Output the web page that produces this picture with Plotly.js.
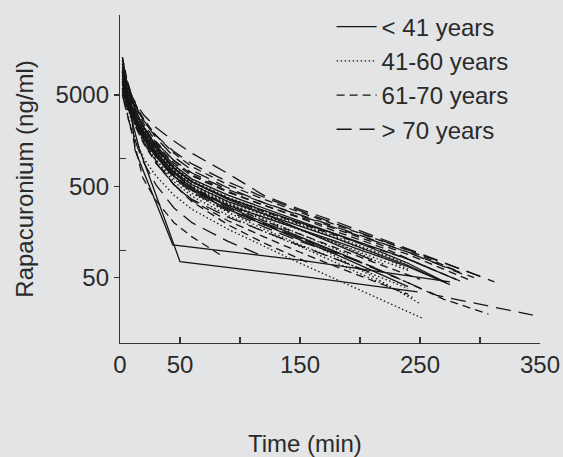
<!DOCTYPE html>
<html>
<head>
<meta charset="utf-8">
<script src="https://cdn.plot.ly/plotly-3.0.1.min.js"></script>
<style>html,body{margin:0;padding:0;background:#e3e4e5;}</style>
</head>
<body>
<div id="chart" style="width:563px;height:457px;"></div>
<script>
// Age groups (legend labels)
const groupNames = ["< 41 years", "41-60 years", "61-70 years", "> 70 years"];

// < 41 years : sampling times (min) and rapacuronium concentrations (ng/ml)
const timesA = [
  [2,5,10,12.5,44,150,275],
  [2,5,10,16,50,150,248],
  [2,3,5,7,10,15,20,30,45,60,90,120,150,180,210,240,272],
  [2,4,6,8,10,15,20,30,45,60,90,120,150,180,240,270],
  [2,4,6,10,15,20,30,45,60,90,120,180,240,275],
  [2,3,5,8,10,15,20,30,45,60,90,120,150,180,210],
  [2,4,6,8,10,15,20,30,45,60,90,120,150,180,240],
  [2,4,6,10,15,20,30,45,60,90,120,150,180,240,280],
  [2,4,7,10,15,20,30,45,60,90,120,150,200]
];
const concA = [
  [9000,5500,2800,1250,114,78,45],
  [7500,4600,2600,1300,75,52,35],
  [11000,9000,6800,5400,4200,2900,2200,1400,850,600,400,290,210,150,105,72,44],
  [8500,6200,5000,4100,3500,2500,1900,1200,720,520,340,250,185,135,68,45],
  [7000,5400,4300,3000,2100,1600,1050,640,460,310,230,125,66,42],
  [13000,10500,7600,5300,4400,3000,2200,1350,800,560,360,250,170,115,78],
  [6000,4800,4000,3400,3000,2200,1700,1100,650,450,280,190,130,90,40],
  [9000,6800,5500,3700,2600,2000,1300,780,560,370,270,200,150,80,48],
  [5500,4500,3600,3000,2300,1800,1150,700,480,300,200,140,75]
];

// 41-60 years
const timesB = [
  [2,4,6,10,15,20,30,45,60,90,120,150,180,210,252],
  [2,4,6,10,15,20,30,45,60,90,120,150,180,210,250],
  [2,4,6,10,15,20,30,45,60,90,120,150,180,240],
  [2,3,5,8,10,15,20,30,45,60,90,120,150,180,210,240],
  [2,4,6,10,15,20,30,45,60,90,120,150,200,245],
  [2,4,6,10,15,20,30,45,60,90,120,150,180,220],
  [2,4,6,10,15,20,30,45,60,90,120,150,180,240],
  [2,4,6,10,15,20,30,45,60,90,120,150,180,210,240],
  [2,4,6,10,15,20,30,45,60,90,120,150,190]
];
const concB = [
  [5800,4200,3200,2100,1400,1000,650,400,280,170,110,72,48,32,18],
  [9000,6600,5200,3500,2400,1800,1150,700,500,320,210,140,85,52,26],
  [7000,5500,4500,3200,2300,1700,1100,680,480,320,230,165,120,60],
  [10000,8200,6300,4600,4000,2800,2100,1350,820,580,380,270,195,140,100,70],
  [6500,5000,4100,2900,2000,1500,950,560,390,240,160,110,55,30],
  [12000,8500,6500,4300,2900,2100,1300,760,530,340,240,170,120,70],
  [5200,4300,3600,2700,2000,1500,980,600,420,260,170,115,80,38],
  [8500,6400,5100,3500,2500,1900,1250,780,560,370,260,190,135,95,62],
  [9500,7000,5500,3800,2700,2000,1250,740,520,330,220,150,90]
];

// 61-70 years
const timesC = [
  [2,4,6,10,15,20,30,45,60,90,120,150,180,210,240,270,307],
  [2,4,6,10,15,20,30,45,60,90,120,150,180,240,290],
  [2,4,6,10,15,20,30,45,60,90,120,150,180,240,280],
  [2,4,6,10,15,19,30,45,60,86],
  [2,4,6,10,15,20,30,45,60,90,120,150,180,210,250],
  [2,4,6,10,15,20,30,45,60,90,120,150,180,220,260],
  [2,4,6,10,15,20,30,45,60,90,120,150,180,240],
  [2,4,6,10,15,20,30,45,60,90,120,150,180,240,285],
  [2,4,6,10,15,20,30,45,60,90,120,160]
];
const concC = [
  [7500,5800,4700,3300,2300,1700,1100,650,450,280,190,135,95,66,44,29,20],
  [9000,7000,5600,4000,2900,2200,1450,900,650,430,310,230,170,90,48],
  [11000,8500,6800,4800,3500,2700,1800,1150,820,520,360,260,190,100,60],
  [6000,4200,3100,1900,1050,620,350,200,140,85],
  [8000,6000,4800,3400,2400,1800,1150,700,490,310,210,150,105,75,48],
  [13000,9500,7200,4800,3300,2400,1550,950,670,440,310,225,160,105,62],
  [5500,4400,3700,2700,1950,1450,900,520,350,210,140,95,66,33],
  [7000,5500,4600,3400,2500,1900,1250,780,560,370,265,195,145,80,45],
  [9000,6500,5000,3300,2200,1600,950,520,340,190,120,70]
];

// > 70 years
const timesD = [
  [2,4,6,10,15,20,30,42,60,90,121,150,180,242,312],
  [2,4,6,10,15,20,30,45,60,90,120,150,200,264,344],
  [2,4,6,10,15,20,30,45,60,90,120,150,180,240,300],
  [2,4,6,10,15,20,30,45,60,90,120,150,180,230],
  [2,4,6,10,15,20,30,45,60,90,120,150,180,240,285],
  [2,4,6,10,15,20,30,45,60,90,120,150,180,210],
  [2,4,6,10,15,20,30,45,60,90,120],
  [2,4,6,10,15,20,30,45,60,90,120,150,180,240,295]
];
const concD = [
  [10000,8000,6500,4800,3700,3000,2200,1670,1150,690,390,280,205,101,45],
  [7000,5500,4500,3200,2300,1700,1050,620,430,270,180,125,75,32,19.5],
  [9000,7200,6000,4400,3300,2600,1800,1200,880,560,380,270,195,100,52],
  [6500,5000,4100,3000,2200,1700,1100,660,460,290,195,135,95,50],
  [12000,9000,7000,4800,3400,2600,1700,1050,750,480,330,240,175,95,55],
  [8000,6000,4600,3100,2100,1500,900,520,360,230,160,112,80,56],
  [5000,3800,3000,2000,1300,900,520,290,200,125,85],
  [7500,6000,5000,3700,2800,2200,1500,960,700,460,330,245,180,95,50]
];

// Axis ticks
const xTickVals = [0, 50, 150, 250, 350];
const xTickText = ["0", "50", "150", "250", "350"];
const xMinorTicks = [100, 200, 300];
const yTickVals = [50, 500, 5000];
const yTickText = ["50", "500", "5000"];
const yMinorTicks = [100, 1000];

const groupTimes = [timesA, timesB, timesC, timesD];
const groupConc = [concA, concB, concC, concD];
const groupDash = ["solid", "1.5px,2.5px", "8px,5px", "15px,8px"];
const lineColor = "#161616";

const traces = [];
groupTimes.forEach((tg, g) => {
  tg.forEach((t, i) => {
    traces.push({
      type: "scatter",
      mode: "lines",
      x: t,
      y: groupConc[g][i],
      name: groupNames[g],
      legendgroup: "g" + g,
      showlegend: i === 0,
      line: {color: lineColor, width: 1.3, dash: groupDash[g]},
      hoverinfo: "skip"
    });
  });
});

const font = {family: "Liberation Sans, Arial, Helvetica, sans-serif", color: "#2a2a2a"};
const bg = "#e3e4e5";

const layout = {
  width: 563, height: 457,
  margin: {l: 120, r: 23, t: 15, b: 114, autoexpand: false},
  paper_bgcolor: bg, plot_bgcolor: bg,
  font: Object.assign({size: 24}, font),
  showlegend: true,
  legend: {
    xref: "container", yref: "container",
    x: 0.589, y: 0.99, xanchor: "left", yanchor: "top",
    bgcolor: "rgba(0,0,0,0)", borderwidth: 0,
    font: Object.assign({size: 24}, font),
    itemwidth: 40, tracegroupgap: 0, itemclick: false, itemdoubleclick: false
  },
  xaxis: {
    range: [0, 350], showgrid: false, zeroline: false,
    showline: true, linecolor: "#333", linewidth: 1.2,
    ticks: "inside", ticklen: 6, tickwidth: 1.2, tickcolor: "#333",
    tickvals: xTickVals, ticktext: xTickText,
    tickfont: Object.assign({size: 24}, font),
    minor: {tickvals: xMinorTicks, ticks: "inside", ticklen: 6, tickwidth: 1.2, tickcolor: "#333", showgrid: false}
  },
  yaxis: {
    type: "log", range: [0.984, 4.575], showgrid: false, zeroline: false,
    showline: true, linecolor: "#333", linewidth: 1.2,
    ticks: "outside", ticklen: 5, tickwidth: 1.2, tickcolor: "#333",
    tickvals: yTickVals, ticktext: yTickText,
    tickfont: Object.assign({size: 24}, font),
    title: {text: "Rapacuronium (ng/ml)", font: Object.assign({size: 24}, font), standoff: 15},
    minor: {tickvals: yMinorTicks, ticks: "inside", ticklen: 6, tickwidth: 1.2, tickcolor: "#333", showgrid: false}
  },
  annotations: [{
    text: "Time (min)", xref: "paper", yref: "paper",
    x: 0.4405, y: -0.305, xanchor: "center", yanchor: "middle",
    showarrow: false, font: Object.assign({size: 24}, font)
  }]
};

Plotly.newPlot("chart", traces, layout, {displayModeBar: false, staticPlot: true});
</script>
</body>
</html>
